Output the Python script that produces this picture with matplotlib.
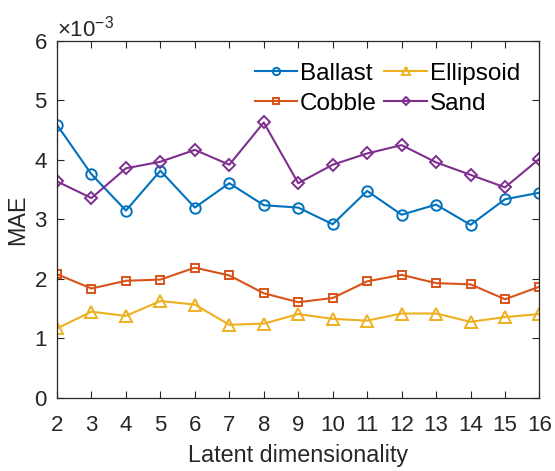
import numpy as np
import matplotlib.pyplot as plt
from matplotlib.ticker import ScalarFormatter

plt.rcParams['font.family'] = ['Liberation Sans', 'DejaVu Sans']
plt.rcParams['mathtext.fontset'] = 'custom'
plt.rcParams['mathtext.rm'] = 'Liberation Sans'

dims = np.arange(2, 17)

# MAE per latent size (x 1e-3)
ballast = [4.59, 3.76, 3.15, 3.82, 3.20, 3.61, 3.24, 3.20, 2.92, 3.48, 3.08, 3.25, 2.91, 3.34, 3.45]
cobble = [2.08, 1.84, 1.97, 1.99, 2.19, 2.06, 1.76, 1.61, 1.68, 1.96, 2.07, 1.93, 1.91, 1.66, 1.87]
ellipsoid = [1.17, 1.45, 1.38, 1.63, 1.57, 1.23, 1.25, 1.41, 1.33, 1.30, 1.42, 1.42, 1.28, 1.36, 1.41]
sand = [3.64, 3.36, 3.86, 3.97, 4.17, 3.92, 4.63, 3.61, 3.92, 4.11, 4.25, 3.96, 3.75, 3.54, 4.02]

series = [
    ("Ballast", ballast, "#0072BD", "o", 7.5),
    ("Cobble", cobble, "#D95319", "s", 5.5),
    ("Ellipsoid", ellipsoid, "#EDB120", "^", 8),
    ("Sand", sand, "#7E2F8E", "D", 6.5),
]

fig = plt.figure(figsize=(5.55, 4.71), dpi=100)
ax = fig.add_axes([0.1027, 0.155, 0.8693, 0.758])

for name, vals, col, mk, ms in series:
    ax.plot(dims, np.array(vals) * 1e-3, color=col, marker=mk, markersize=ms,
            markerfacecolor="none", markeredgewidth=1.4, linewidth=1.5, label=name)

ax.set_xlim(2, 16)
ax.set_ylim(0, 6e-3)
ax.set_xticks(dims)
ax.set_yticks(np.arange(0, 7) * 1e-3)

fmt = ScalarFormatter(useMathText=True)
fmt.set_powerlimits((-3, -3))
ax.yaxis.set_major_formatter(fmt)
ax.yaxis.get_offset_text().set_fontsize(16)
ax.yaxis.get_offset_text().set_color("#262626")

ax.tick_params(direction="in", length=5, width=0.8, top=True, right=True,
               labelsize=16, colors="#262626")
ax.tick_params(axis="x", pad=12)
ax.tick_params(axis="y", pad=7)
for sp in ax.spines.values():
    sp.set_color("#262626")
    sp.set_linewidth(0.9)

ax.set_xlabel("Latent dimensionality", fontsize=16.8, color="#262626", labelpad=6)
ax.set_ylabel("MAE", fontsize=16.8, color="#262626", labelpad=3)

ax.legend(ncol=2, loc="upper right", frameon=False, fontsize=17.5,
          handlelength=1.75, handletextpad=0.12, columnspacing=0.3,
          labelspacing=0.33, borderaxespad=0.5, markerscale=0.7,
          bbox_to_anchor=(1.005, 1.0))

fig.savefig("out.png", dpi=100)
